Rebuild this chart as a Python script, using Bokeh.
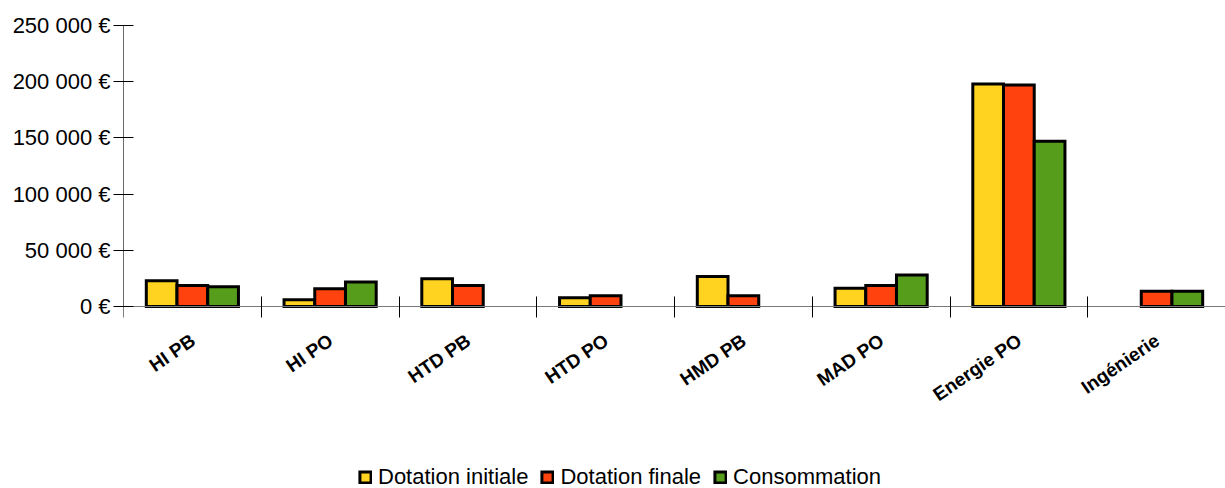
from bokeh.plotting import figure
from bokeh.models import Range1d, FixedTicker, Legend, LegendItem, LinearAxis
from bokeh.embed import file_html
from bokeh.resources import INLINE

categories = ["HI PB", "HI PO", "HTD PB", "HTD PO", "HMD PB", "MAD PO", "Energie PO", "Ingénierie"]
series_names = ["Dotation initiale", "Dotation finale", "Consommation"]
dotation_initiale = [22800, 5900, 24600, 7700, 26600, 16300, 198000, None]
dotation_finale = [18600, 15700, 18600, 9500, 9500, 18600, 197000, 13600]
consommation = [17500, 21900, None, None, None, 28100, 147000, 13600]
colors = ["#ffd320", "#ff420e", "#579d1c"]
y_ticks = [0, 50000, 100000, 150000, 200000, 250000]
y_tick_labels = ["0 €", "50 000 €", "100 000 €", "150 000 €", "200 000 €", "250 000 €"]

FONT = "Liberation Sans"
n = len(categories)
y_max = 250000
plot_px = 281      # pixel height of the value area
below_px = 182     # room under the zero line for labels and legend
y_min = -y_max * below_px / plot_px

p = figure(frame_width=1102, frame_height=plot_px + below_px,
           x_range=Range1d(0, n), y_range=Range1d(y_min, y_max),
           x_axis_location=None,
           output_backend="svg", toolbar_location=None,
           min_border_left=123, min_border_top=25, min_border_right=0, min_border_bottom=0)
p.outline_line_color = None
p.xgrid.visible = False
p.ygrid.visible = False
p.background_fill_color = "white"
p.border_fill_color = "white"

bar_w = 0.223
offsets = [-bar_w, 0.0, bar_w]
renderers = []
for vals, color, off in zip([dotation_initiale, dotation_finale, consommation], colors, offsets):
    xs = [i + 0.5 + off for i, v in enumerate(vals) if v is not None]
    tops = [v for v in vals if v is not None]
    r = p.vbar(x=xs, top=tops, bottom=0, width=bar_w, fill_color=color,
               line_color="black", line_width=3, line_join="miter")
    renderers.append(r)

# x axis, pinned at the zero line
label_shift = 0.005
xa = LinearAxis(fixed_location=0)
xa.ticker = FixedTicker(ticks=[i + 0.5 + label_shift for i in range(n)], minor_ticks=list(range(n + 1)))
xa.major_label_overrides = {i + 0.5 + label_shift: c for i, c in enumerate(categories)}
xa.major_tick_line_color = None
xa.major_tick_out = 10
xa.major_tick_in = 0
xa.minor_tick_line_color = "black"
xa.minor_tick_in = 10
xa.minor_tick_out = 11
xa.axis_line_color = "#7a7a7a"
xa.major_label_orientation = 0.6
xa.major_label_text_font = FONT
xa.major_label_text_font_style = "bold"
xa.major_label_text_font_size = "19px"
xa.major_label_text_color = "black"
xa.major_label_standoff = 21
p.add_layout(xa, "below")

# y axis
ya = p.yaxis[0]
ya.bounds = (0, y_max)
ya.ticker = FixedTicker(ticks=y_ticks)
ya.major_label_overrides = {t: l for t, l in zip(y_ticks, y_tick_labels)}
ya.major_tick_in = 10
ya.major_tick_out = 10
ya.major_tick_line_color = "black"
ya.minor_tick_line_color = None
ya.axis_line_color = "#6a6a6a"
ya.major_label_text_font = FONT
ya.major_label_text_font_size = "22px"
ya.major_label_text_color = "black"
ya.major_label_standoff = 3

legend = Legend(items=[LegendItem(label=nm, renderers=[r]) for nm, r in zip(series_names, renderers)],
                orientation="horizontal", location=(235, -2),
                border_line_color=None, background_fill_alpha=0,
                label_text_font=FONT, label_text_font_size="22px", label_text_color="black",
                glyph_width=14, glyph_height=14, label_height=22, label_standoff=6,
                spacing=12, padding=0, margin=0)
p.add_layout(legend, "center")

open("out.html", "w").write(file_html(p, INLINE))
